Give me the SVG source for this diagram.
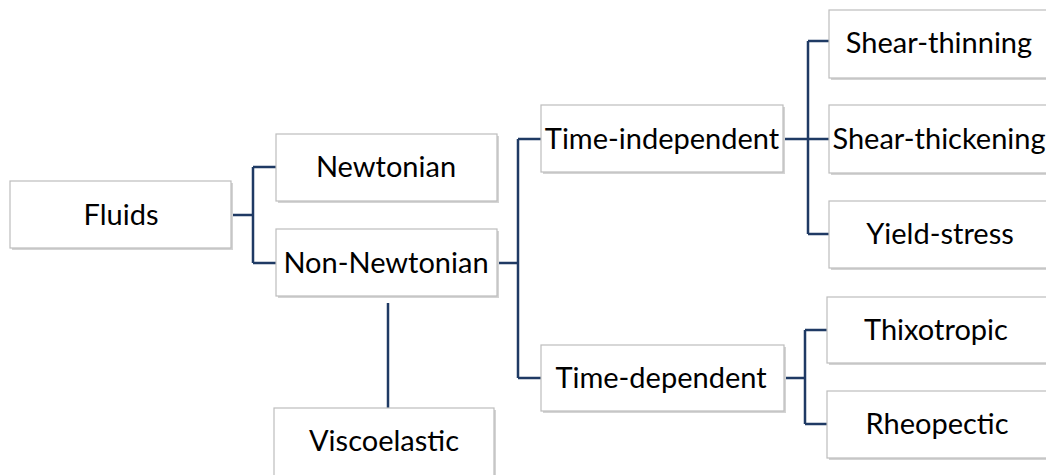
<svg xmlns="http://www.w3.org/2000/svg" width="1046" height="475" viewBox="0 0 1046 475">
<style>
.box{fill:#ffffff;stroke:#bdbdbd;stroke-width:1.2}
.sh{fill:#d4d4d4}
.t{font-family:Lato,"Open Sans","Liberation Sans",sans-serif;font-size:29px;fill:#000;text-anchor:middle}
.c{fill:none;stroke:#1f3a64;stroke-width:2.5}
</style>
<rect width="1046" height="475" fill="#ffffff"/>
<g id="connectors">
<path class="c" d="M231 215H253M253 167V263M253 167H276M253 263H276"/>
<path class="c" d="M497 263H518M518 139V378M518 139H541M518 378H541"/>
<path class="c" d="M783 139H829M808 41V234M808 41H829M808 234H829"/>
<path class="c" d="M784 378H805M805 330V424M805 330H827M805 424H827"/>
<path class="c" d="M388 303V411"/>
</g>
<g id="fluids"><rect class="sh" x="12" y="183" width="221" height="67"/><rect class="box" x="10" y="181" width="221" height="67"/><text class="t" x="121" y="225">Fluids</text></g>
<g id="newtonian"><rect class="sh" x="278" y="136" width="221" height="67"/><rect class="box" x="276" y="134" width="221" height="67"/><text class="t" x="386" y="177">Newtonian</text></g>
<g id="non-newtonian"><rect class="sh" x="278" y="231" width="221" height="67"/><rect class="box" x="276" y="229" width="221" height="67"/><text class="t" x="386" y="273">Non-Newtonian</text></g>
<g id="viscoelastic"><rect class="sh" x="276" y="410" width="220" height="70"/><rect class="box" x="274" y="408" width="220" height="70"/><text class="t" x="384" y="451">Viscoelastic</text></g>
<g id="time-independent"><rect class="sh" x="543" y="107" width="242" height="67"/><rect class="box" x="541" y="105" width="242" height="67"/><text class="t" x="662" y="149">Time-independent</text></g>
<g id="time-dependent"><rect class="sh" x="543" y="347" width="243" height="66"/><rect class="box" x="541" y="345" width="243" height="66"/><text class="t" x="661" y="388">Time-dependent</text></g>
<g id="shear-thinning"><rect class="sh" x="831" y="12" width="240" height="68"/><rect class="box" x="829" y="10" width="240" height="68"/><text class="t" x="939" y="53">Shear-thinning</text></g>
<g id="shear-thickening"><rect class="sh" x="831" y="107" width="240" height="68"/><rect class="box" x="829" y="105" width="240" height="68"/><text class="t" x="939" y="149">Shear-thickening</text></g>
<g id="yield-stress"><rect class="sh" x="831" y="203" width="240" height="67"/><rect class="box" x="829" y="201" width="240" height="67"/><text class="t" x="940" y="244">Yield-stress</text></g>
<g id="thixotropic"><rect class="sh" x="829" y="299" width="240" height="66"/><rect class="box" x="827" y="297" width="240" height="66"/><text class="t" x="936" y="340">Thixotropic</text></g>
<g id="rheopectic"><rect class="sh" x="829" y="393" width="240" height="67"/><rect class="box" x="827" y="391" width="240" height="67"/><text class="t" x="937" y="434">Rheopectic</text></g>
</svg>
